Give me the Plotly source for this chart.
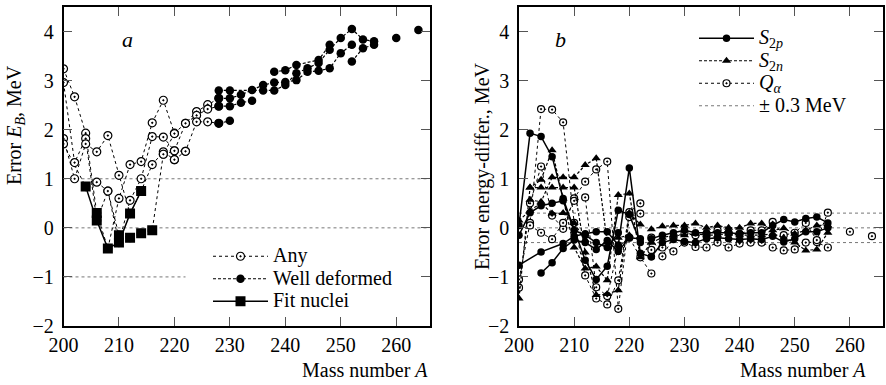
import plotly.graph_objects as go

# ---------------- Panel a data ----------------
any_mass = [200, 202, 204, 206, 208, 210, 212, 214, 216, 218, 220, 222, 224, 226, 228, None,
            200, 202, 204, 206, 208, 210, 212, 214, 216, 218, 220, 222, None,
            200, 202, 204, 206, 208, 210, 212, 214, 216, 218, 220, None,
            200, 204, 206, 208, 210, 212, 214, 216, 218, 220, None,
            218, 220, 222, 224, 226, 228, None,
            220, 222, 224, 226, 228]
any_err = [3.24, 2.67, 1.93, 0.30, -0.42, 0.60, 1.29, 1.35, 2.14, 2.60, 1.93, 2.13, 2.37, 2.51, 2.64, None,
           2.96, 1.33, 1.82, 0.15, 0.75, -0.30, 0.56, 1.00, 1.86, 1.85, 1.57, 1.56, None,
           1.82, 1.00, 1.71, 1.55, 1.88, 1.07, 0.29, 0.75, 1.29, 1.55, 1.39, None,
           1.71, 0.84, 0.93, 0.75, -0.15, -0.20, -0.11, -0.05, 1.50, 1.92, None,
           1.50, 1.57, 2.13, 2.29, 2.42, 2.48, None,
           1.39, 1.56, 2.16, 2.16, 2.13]

wd_mass = [228, 230, None,
           228, 230, 232, 234, None,
           228, 230, 232, 234, 236, 238, 240, 242, 244, 246, 248, 250, 252, None,
           228, 230, 236, 238, 240, 242, 244, 246, 248, 250, 252, 254, 256, None,
           238, 240, 242, 246, 248, None,
           252, 254, 256, None,
           260, None, 264]
wd_err = [2.13, 2.18, None,
          2.48, 2.48, 2.55, 2.59, None,
          2.64, 2.64, 2.71, 2.81, 2.91, 2.96, 2.97, 3.01, 3.18, 3.20, 3.25, 3.56, 3.73, None,
          2.80, 2.80, 2.80, 2.80, 2.91, 3.15, 3.25, 3.36, 3.63, 3.87, 4.05, 3.84, 3.80, None,
          3.18, 3.21, 3.32, 3.42, 3.73, None,
          3.39, 3.66, 3.73, None,
          3.87, None, 4.03]

fit_mass = [204, 206, 208, 210, 212, 214, None, 206, None, 210, None, 212, None, 214, None, 216]
fit_err = [0.84, 0.15, -0.42, -0.30, 0.29, 0.75, None, 0.30, None, -0.15, None, -0.20, None, -0.11, None, -0.05]

# ---------------- Panel b data ----------------
s2p_mass = [200, 202, 204, 206, 208, 212, 214, 216, 218, 220, 222, None,
            200, 204, 208, 210, 212, 214, 216, 218, 220, 222, 224, None,
            204, 206, 208, 210, 212, 214, 216, 218, 220, 222, None,
            200, 202, 204, 206, 208, 210, 212, 214, 216, 218, None,
            224, 226, 228, 230, 232, 234, 236, 238, 240, 242, 244, 246, 248, 250, 252, 254, 256, None,
            224, 226, 228, 230, 232, 234, 236, 238, 240, 242, 244, 246, 248, 250, 252, 254, 256]
s2p_err = [0.05, 1.93, 1.86, 1.45, 0.60, -0.66, -1.05, -0.78, 0.36, 0.27, -0.30, None,
           -0.76, -0.49, -0.32, -0.17, -0.12, -0.08, -0.08, -0.35, 1.22, -0.52, -0.59, None,
           -0.92, -0.71, -0.42, -0.25, -0.30, -0.44, -0.26, -0.48, -0.20, -0.22, None,
           -0.15, 0.31, 0.45, 0.50, 0.55, -0.05, -0.15, -0.30, -0.40, -0.10, None,
           -0.22, -0.15, -0.10, -0.05, -0.10, -0.10, -0.10, -0.10, -0.12, -0.10, -0.10, 0.05, 0.17, 0.12, 0.19, 0.22, 0.10, None,
           -0.59, -0.30, -0.24, -0.28, -0.30, -0.22, -0.20, -0.22, -0.24, -0.22, -0.24, -0.17, -0.29, -0.22, -0.08, -0.08, 0.00]

s2n_mass = [200, 202, 204, 206, 208, 210, 212, 214, 216, 218, 220, 222, 224, None,
            202, 204, 206, 208, 210, 212, 214, 216, 218, 220, 222, None,
            202, 204, 206, 208, 210, 212, 214, 216, 218, 220, None,
            200, 202, 204, 206, 208, 210, 212, None,
            224, 226, 228, 230, 232, 234, 236, 238, 240, 242, 244, 246, 248, 250, 252, 254, 256, None,
            224, 226, 228, 230, 232, 234, 236, 238, 240, 242, 244, 246, 248, 250, 252, 254, 256]
s2n_err = [-1.44, 0.82, 0.98, 1.58, 0.60, -0.40, -0.83, -0.79, -1.07, 0.67, 0.70, -0.60, -0.30, None,
           0.82, 0.82, 0.82, 0.82, 0.82, -0.50, -1.37, -1.35, -1.27, 0.30, 0.07, None,
           0.57, 0.53, 1.03, 1.03, 1.03, 1.28, 1.42, -0.30, -0.20, -0.15, None,
           0.15, 0.35, 0.51, 0.29, 0.30, 0.10, -0.25, None,
           -0.03, 0.03, 0.05, 0.05, 0.09, 0.00, 0.05, 0.00, 0.00, 0.09, 0.09, -0.05, -0.01, -0.12, -0.05, 0.05, 0.05, None,
           -0.30, -0.20, -0.15, -0.15, -0.12, -0.15, -0.15, -0.12, -0.15, -0.15, -0.15, -0.12, -0.20, -0.30, -0.46, -0.44, -0.10]

qa_mass = [200, 202, 204, 206, 208, 210, 212, 214, 216, 218, 220, 222, None,
           200, 202, 204, 206, 208, 210, 212, 214, 216, 218, 220, 222, None,
           202, 204, 206, 208, 210, 212, 214, 216, 218, 220, 222, 224, None,
           224, 226, 228, 230, 232, 234, 236, 238, 240, 242, 244, 246, 248, 250, 252, 254, 256, None,
           224, 226, 228, 230, 232, 234, 236, 238, 240, 242, 244, 246, 248, 250, 252, 254, 256, None,
           260, None, 264]
qa_err = [-1.05, 0.10, 2.42, 2.41, 2.15, 0.10, -0.97, -1.44, -1.56, -1.07, 0.32, 0.50, None,
          -1.22, 0.50, 1.25, 0.25, -0.02, 0.60, 0.94, 1.19, 1.35, -1.65, 0.22, 0.29, None,
          0.05, -0.10, -0.23, 0.10, 0.55, 0.62, -1.21, -1.39, -0.40, -0.20, -0.60, -0.93, None,
          -0.45, -0.40, -0.48, -0.30, -0.39, -0.40, -0.30, -0.40, -0.32, -0.30, -0.30, -0.40, -0.46, -0.44, -0.30, -0.29, -0.40, None,
          -0.20, -0.58, -0.20, -0.10, -0.15, -0.12, -0.05, -0.10, -0.12, -0.05, -0.05, 0.12, -0.15, -0.10, 0.10, -0.25, 0.31, None,
          -0.08, None, -0.17]

x_ticks = [200, 210, 220, 230, 240, 250, 260]
y_ticks = [-2, -1, 0, 1, 2, 3, 4]
band_mass = [200, 266]
band_levels = [0.3, 0, -0.3]
FONT = "Liberation Serif, Times New Roman, serif"


def big(s):
    return '<span style="font-size:20px">' + s + '</span>'


fig = go.Figure()

# reference lines panel a
for yv, x1 in [(1, 266), (0, 266), (-1, 222)]:
    fig.add_shape(type="line", xref="x", yref="y", x0=200, x1=x1, y0=yv, y1=yv,
                  line=dict(color="#777", width=1, dash="dot"), layer="below")

fig.add_trace(go.Scatter(x=any_mass, y=any_err, mode="lines+markers", name=big("Any"),
                         line=dict(color="black", width=1, dash="dot"),
                         marker=dict(symbol="circle-dot", size=8, color="white",
                                     line=dict(color="black", width=1.2)),
                         xaxis="x", yaxis="y", legend="legend"))
fig.add_trace(go.Scatter(x=wd_mass, y=wd_err, mode="lines+markers", name=big("Well deformed"),
                         line=dict(color="black", width=1.2, dash="3px,2px"),
                         marker=dict(symbol="circle", size=8.5, color="black"),
                         xaxis="x", yaxis="y", legend="legend"))
fig.add_trace(go.Scatter(x=fit_mass, y=fit_err, mode="lines+markers", name=big("Fit nuclei"),
                         line=dict(color="black", width=1.5),
                         marker=dict(symbol="square", size=10, color="black"),
                         xaxis="x", yaxis="y", legend="legend"))

# panel b
bx, by = [], []
for lv in band_levels:
    bx += band_mass + [None]
    by += [lv, lv, None]
fig.add_trace(go.Scatter(x=bx, y=by, mode="lines", name=big("± 0.3 MeV"),
                         line=dict(color="#777", width=1, dash="dot"),
                         xaxis="x2", yaxis="y2", legend="legend2", legendrank=4))
fig.add_trace(go.Scatter(x=qa_mass, y=qa_err, mode="lines+markers",
                         name=big("<i>Q</i><sub><i>α</i></sub>"),
                         line=dict(color="black", width=1, dash="dot"),
                         marker=dict(symbol="circle-dot", size=7, color="white",
                                     line=dict(color="black", width=1.2)),
                         xaxis="x2", yaxis="y2", legend="legend2", legendrank=3))
fig.add_trace(go.Scatter(x=s2n_mass, y=s2n_err, mode="lines+markers",
                         name=big("<i>S</i><sub>2<i>n</i></sub>"),
                         line=dict(color="black", width=1.2, dash="3px,2px"),
                         marker=dict(symbol="triangle-up", size=8, color="black"),
                         xaxis="x2", yaxis="y2", legend="legend2", legendrank=2))
fig.add_trace(go.Scatter(x=s2p_mass, y=s2p_err, mode="lines+markers",
                         name=big("<i>S</i><sub>2<i>p</i></sub>"),
                         line=dict(color="black", width=1.5),
                         marker=dict(symbol="circle", size=7.5, color="black"),
                         xaxis="x2", yaxis="y2", legend="legend2", legendrank=1))

axis_common = dict(range=[200, 266], tickvals=x_ticks, showgrid=False, zeroline=False,
                   showline=True, linecolor="black", linewidth=1.5, mirror="ticks",
                   ticks="inside", ticklen=9, tickwidth=1.2, tickcolor="#555", automargin=False,
                   tickfont=dict(family=FONT, size=20, color="black"))
yaxis_common = dict(range=[-2, 4.5], tickvals=y_ticks, showgrid=False, zeroline=False,
                    showline=True, linecolor="black", linewidth=1.5, mirror="ticks",
                    ticks="inside", ticklen=9, tickwidth=1.2, tickcolor="#555", automargin=False,
                    ticklabelstandoff=4,
                    tickfont=dict(family=FONT, size=20, color="black"))

W, H = 886, 385
fig.update_layout(
    template="none",
    width=W, height=H, margin=dict(l=0, r=0, t=7, b=59, autoexpand=False),
    paper_bgcolor="white", plot_bgcolor="white",
    font=dict(family=FONT, size=20, color="black"),
    xaxis=dict(domain=[63.5 / W, 429.5 / W], anchor="y", **axis_common),
    yaxis=dict(domain=[0, 1], anchor="x", **yaxis_common),
    xaxis2=dict(domain=[519 / W, 883 / W], anchor="y2", **axis_common),
    yaxis2=dict(domain=[0, 1], anchor="x2", **yaxis_common),
    legend=dict(x=208 / W, y=(326 - 240) / 319, xanchor="left", yanchor="top",
                bgcolor="rgba(255,255,255,0)", borderwidth=0, font=dict(family=FONT, size=15),
                itemwidth=55, tracegroupgap=0),
    legend2=dict(x=694 / W, y=(326 - 22) / 319, xanchor="left", yanchor="top",
                 bgcolor="rgba(255,255,255,0)", borderwidth=0, font=dict(family=FONT, size=15),
                 itemwidth=55, tracegroupgap=0),
    showlegend=True,
)

annotations = [
    dict(text="<i>a</i>", x=211.6, y=3.83, xref="x", yref="y", showarrow=False,
         font=dict(family=FONT, size=22)),
    dict(text="<i>b</i>", x=207.5, y=3.83, xref="x2", yref="y2", showarrow=False,
         font=dict(family=FONT, size=22)),
    dict(text="Mass number <i>A</i>", x=430 / W, y=-0.138, xref="paper", yref="paper",
         xanchor="right", yanchor="middle", showarrow=False, font=dict(family=FONT, size=20)),
    dict(text="Mass number <i>A</i>", x=868 / W, y=-0.138, xref="paper", yref="paper",
         xanchor="right", yanchor="middle", showarrow=False, font=dict(family=FONT, size=20)),
    dict(text="Error <i>E</i><sub><i>B</i></sub>, MeV", x=15 / W, y=(326 - 125) / 319,
         xref="paper", yref="paper", xanchor="center", yanchor="middle", textangle=-90,
         showarrow=False, font=dict(family=FONT, size=20)),
    dict(text="Error energy-differ., MeV", x=482 / W, y=(326 - 166) / 319,
         xref="paper", yref="paper", xanchor="center", yanchor="middle", textangle=-90,
         showarrow=False, font=dict(family=FONT, size=20)),
]
fig.update_layout(annotations=annotations)

fig.write_html("out.html", config={"displayModeBar": False},
               post_script="document.body.style.margin='0px'; document.body.style.padding='0px';")
